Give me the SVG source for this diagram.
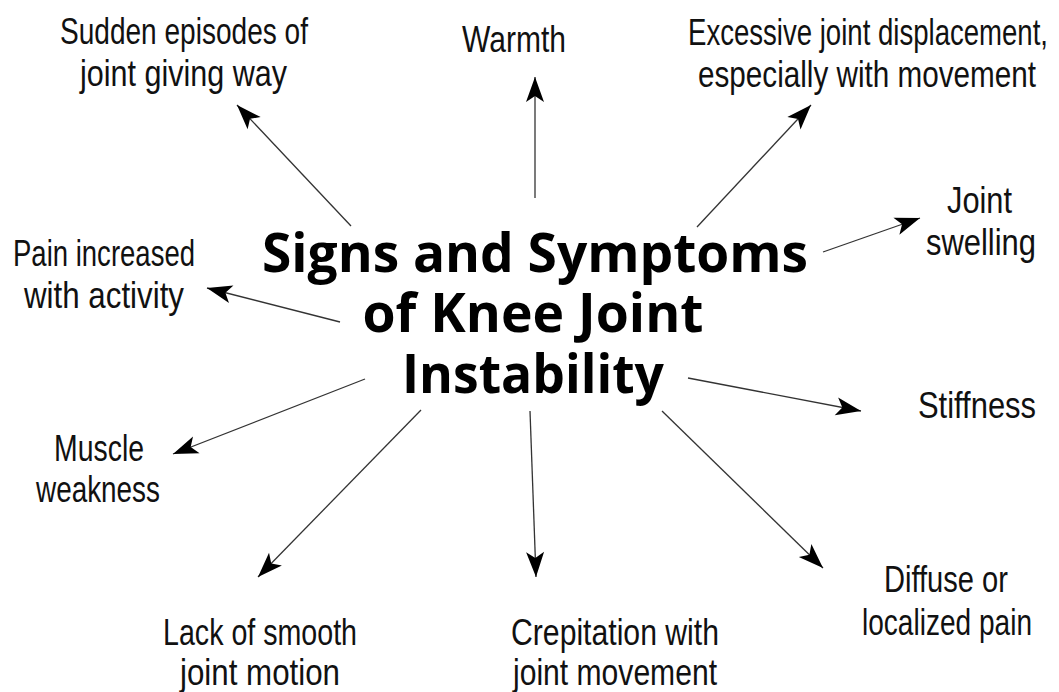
<svg xmlns="http://www.w3.org/2000/svg" width="1059" height="692" viewBox="0 0 1059 692">
<style>
.lbl{font-family:"Liberation Sans","DejaVu Sans",sans-serif;font-size:37px;fill:#111;}
.r{text-anchor:end;}
.title{font-family:"Open Sans","Liberation Sans",sans-serif;font-weight:700;font-size:53px;fill:#000;text-anchor:middle;}
.conn line{stroke:#333;stroke-width:1.3;marker-end:url(#ah);}
</style>
<defs>
<marker id="ah" markerUnits="userSpaceOnUse" markerWidth="30" markerHeight="24" viewBox="-26 -12 30 24" refX="0" refY="0" orient="auto">
<path d="M0,0 L-25,-9 L-19,0 L-25,9 Z" fill="#000"/>
</marker>
</defs>
<rect width="1059" height="692" fill="#fff"/>
<g id="connectors" class="conn">
<line x1="351" y1="226" x2="237" y2="105"/>
<line x1="535" y1="198" x2="535" y2="77"/>
<line x1="697" y1="227" x2="811" y2="105"/>
<line x1="823" y1="252" x2="920" y2="218"/>
<line x1="340" y1="322" x2="207" y2="288"/>
<line x1="688" y1="378" x2="861" y2="411"/>
<line x1="365" y1="379" x2="173" y2="454"/>
<line x1="421" y1="410" x2="258" y2="577"/>
<line x1="530" y1="411" x2="536" y2="577"/>
<line x1="662" y1="411" x2="823" y2="568"/>
</g>
<g id="center">
<text class="title" x="535" y="272" textLength="546" lengthAdjust="spacingAndGlyphs">Signs and Symptoms</text>
<text class="title" x="533" y="332" textLength="341" lengthAdjust="spacingAndGlyphs">of Knee Joint</text>
<text class="title" x="533" y="393" textLength="262" lengthAdjust="spacingAndGlyphs">Instability</text>
</g>
<g id="sudden">
<text class="lbl" x="60" y="44" textLength="248" lengthAdjust="spacingAndGlyphs">Sudden episodes of</text>
<text class="lbl" x="80" y="86" textLength="207" lengthAdjust="spacingAndGlyphs">joint giving way</text>
</g>
<g id="warmth">
<text class="lbl" x="462" y="52" textLength="104" lengthAdjust="spacingAndGlyphs">Warmth</text>
</g>
<g id="excessive">
<text class="lbl r" x="1048" y="45" textLength="360" lengthAdjust="spacingAndGlyphs">Excessive joint displacement,</text>
<text class="lbl r" x="1036" y="87" textLength="338" lengthAdjust="spacingAndGlyphs">especially with movement</text>
</g>
<g id="swelling">
<text class="lbl r" x="1012" y="213" textLength="65" lengthAdjust="spacingAndGlyphs">Joint</text>
<text class="lbl r" x="1036" y="255" textLength="110" lengthAdjust="spacingAndGlyphs">swelling</text>
</g>
<g id="pain">
<text class="lbl" x="13" y="266" textLength="182" lengthAdjust="spacingAndGlyphs">Pain increased</text>
<text class="lbl" x="24" y="308" textLength="160" lengthAdjust="spacingAndGlyphs">with activity</text>
</g>
<g id="stiffness">
<text class="lbl r" x="1036" y="418" textLength="118" lengthAdjust="spacingAndGlyphs">Stiffness</text>
</g>
<g id="muscle">
<text class="lbl" x="54" y="461" textLength="90" lengthAdjust="spacingAndGlyphs">Muscle</text>
<text class="lbl" x="36" y="502" textLength="124" lengthAdjust="spacingAndGlyphs">weakness</text>
</g>
<g id="lack">
<text class="lbl" x="163" y="645" textLength="194" lengthAdjust="spacingAndGlyphs">Lack of smooth</text>
<text class="lbl" x="180" y="685" textLength="160" lengthAdjust="spacingAndGlyphs">joint motion</text>
</g>
<g id="crepitation">
<text class="lbl" x="511" y="645" textLength="208" lengthAdjust="spacingAndGlyphs">Crepitation with</text>
<text class="lbl" x="513" y="685" textLength="204" lengthAdjust="spacingAndGlyphs">joint movement</text>
</g>
<g id="diffuse">
<text class="lbl r" x="1008" y="592" textLength="124" lengthAdjust="spacingAndGlyphs">Diffuse or</text>
<text class="lbl r" x="1032" y="635" textLength="170" lengthAdjust="spacingAndGlyphs">localized pain</text>
</g>
</svg>
